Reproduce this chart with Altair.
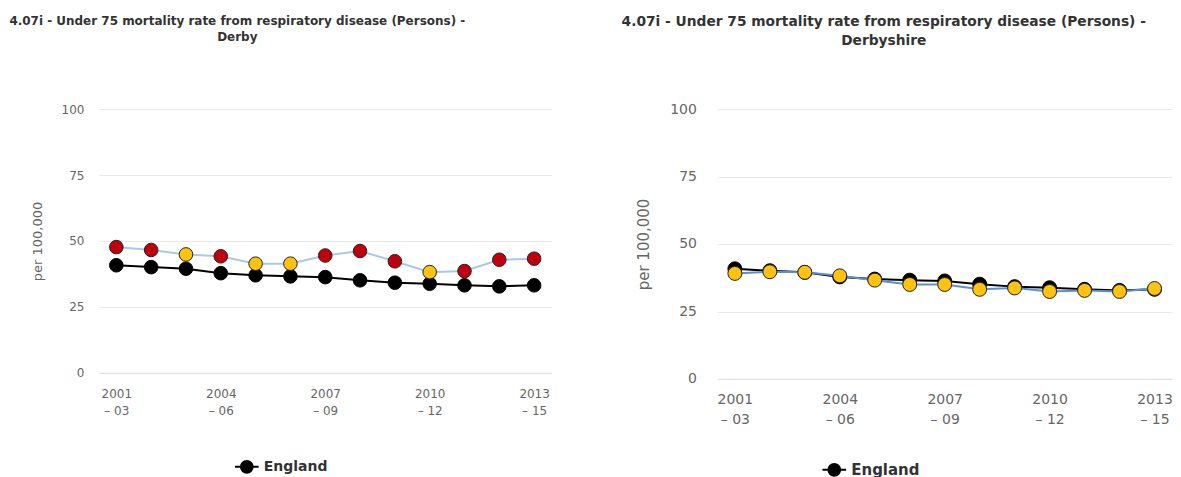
import altair as alt
import pandas as pd

periods = ["2001 - 03", "2002 - 04", "2003 - 05", "2004 - 06", "2005 - 07",
           "2006 - 08", "2007 - 09", "2008 - 10", "2009 - 11", "2010 - 12",
           "2011 - 13", "2012 - 14", "2013 - 15"]
label_periods = ["2001 - 03", "2004 - 06", "2007 - 09", "2010 - 12", "2013 - 15"]

england = [40.8, 40.1, 39.5, 37.8, 37.0, 36.6, 36.3, 35.1, 34.2, 33.8, 33.2, 32.8, 33.2]

derby = [47.7, 46.6, 44.9, 44.2, 41.4, 41.4, 44.5, 46.2, 42.3, 38.2, 38.6, 42.9, 43.3]
derby_sig = ["Worse", "Worse", "Similar", "Worse", "Similar", "Similar", "Worse",
             "Worse", "Worse", "Similar", "Worse", "Worse", "Worse"]

derbyshire = [39.1, 39.7, 39.5, 38.2, 36.6, 35.0, 35.0, 33.2, 33.7, 32.4, 32.8, 32.4, 33.5]
derbyshire_sig = ["Similar"] * 13

FONT = "DejaVu Sans"
LEGEND_SYMBOL = "M-1,0L1,0M0.5,0A0.5,0.5,0,1,1,-0.5,0A0.5,0.5,0,1,1,0.5,0Z"


def panel(area, values, sig, width, height, fs, title_fs, title_lh, title_offset,
          title_dx, line_color, x_lab_pad, x_lab_lh, y_lab_pad, y_title_pad,
          legend_fs, legend_x, legend_y, pt_size):
    eng_df = pd.DataFrame({"period": periods, "value": england, "series": "England"})
    loc_df = pd.DataFrame({"period": periods, "value": values, "sig": sig, "series": area})

    x = alt.X("period:N",
              scale=alt.Scale(type="point", domain=periods, padding=0.5),
              axis=alt.Axis(values=label_periods,
                            labelExpr="[substring(datum.label,0,4), '\u2013 ' + substring(datum.label,7,9)]",
                            labelAngle=0, title=None, ticks=False, grid=False,
                            domainColor="#e0e0e0", labelColor="#666666",
                            labelFont=FONT, labelFontSize=fs, labelPadding=x_lab_pad,
                            labelLineHeight=x_lab_lh))
    y = alt.Y("value:Q",
              scale=alt.Scale(domain=[0, 100], nice=False),
              axis=alt.Axis(values=[0, 25, 50, 75, 100], title="per 100,000",
                            titleFont=FONT, titleFontWeight="normal", titleColor="#666666",
                            titleFontSize=fs + 1, titlePadding=y_title_pad,
                            labelColor="#666666", labelFont=FONT, labelFontSize=fs,
                            labelPadding=y_lab_pad, ticks=False, domain=False,
                            gridColor="#e8e8e8"))

    eng_line = alt.Chart(eng_df).mark_line(color="#000000", strokeWidth=2).encode(x=x, y=y)
    eng_pts = alt.Chart(eng_df).mark_circle(size=pt_size, opacity=1, stroke="#000000",
                                            strokeWidth=1).encode(
        x=x, y=y,
        color=alt.Color("series:N",
                        scale=alt.Scale(domain=["England"], range=["#000000"]),
                        legend=alt.Legend(title=None, orient="none",
                                          legendX=legend_x, legendY=legend_y,
                                          symbolType=LEGEND_SYMBOL, symbolSize=560,
                                          symbolStrokeColor="#000000",
                                          symbolStrokeWidth=2,
                                          symbolFillColor="#000000",
                                          labelFont=FONT, labelFontSize=legend_fs,
                                          labelFontWeight="bold", labelColor="#333333",
                                          padding=0)))
    loc_line = alt.Chart(loc_df).mark_line(color=line_color, strokeWidth=2).encode(x=x, y=y)
    loc_pts = alt.Chart(loc_df).mark_circle(size=pt_size, opacity=1, stroke="#222222",
                                            strokeWidth=1).encode(
        x=x, y=y,
        fill=alt.Fill("sig:N",
                      scale=alt.Scale(domain=["Worse", "Similar"],
                                      range=["#c0000d", "#ffc20e"]),
                      legend=None))

    title = alt.TitleParams(
        text=["4.07i - Under 75 mortality rate from respiratory disease (Persons) -", area],
        font=FONT, fontSize=title_fs, fontWeight="bold", color="#333333",
        lineHeight=title_lh, offset=title_offset, dx=title_dx, anchor="middle")

    return alt.layer(eng_line, eng_pts, loc_line, loc_pts).properties(
        width=width, height=height, title=title
    ).resolve_scale(color="independent", fill="independent")


left = panel("Derby", derby, derby_sig, 453, 264, 12, 12, 16, 59, -88,
             "#a9c9ea", 16, 17, 15, 17, 14, 135, 345, 185)
right = panel("Derbyshire", derbyshire, derbyshire_sig, 455, 270, 14, 13.8, 19, 54, -61,
              "#5b8fd4", 14, 20, 21, 18, 15, 104, 348, 195)

chart = alt.hconcat(left, right, spacing=69).resolve_scale(
    color="independent", fill="independent", x="independent", y="independent"
).resolve_legend(color="independent").properties(
    padding={"left": 0, "top": 7, "right": 0, "bottom": 0}
).configure_view(stroke=None)

chart.save("out.html", embed_options={"renderer": "svg", "actions": False})
